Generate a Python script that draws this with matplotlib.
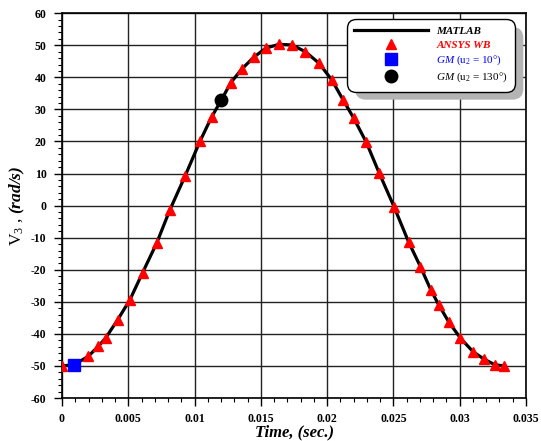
import numpy as np
import matplotlib

matplotlib.use("Agg")
import matplotlib.pyplot as plt
from matplotlib.lines import Line2D
from matplotlib.patches import FancyBboxPatch
from matplotlib.ticker import MultipleLocator, FuncFormatter

plt.rcParams["font.family"] = ["Liberation Serif", "DejaVu Serif"]
plt.rcParams["mathtext.fontset"] = "custom"
plt.rcParams["mathtext.rm"] = "Liberation Serif"
plt.rcParams["mathtext.it"] = "Liberation Serif:italic"
plt.rcParams["mathtext.bf"] = "Liberation Serif:bold"
plt.rcParams["mathtext.bfit"] = "Liberation Serif:italic:bold"

# MATLAB curve
t_matlab = [0.0, 0.00093, 0.00198, 0.00274, 0.00329, 0.0042, 0.00512, 0.00608,
            0.00714, 0.00814, 0.00927, 0.0104, 0.01128, 0.01203, 0.01271,
            0.01354, 0.01447, 0.01537, 0.01636, 0.01735, 0.01836, 0.01939,
            0.02035, 0.0212, 0.0220, 0.02296, 0.02391, 0.02504, 0.02615,
            0.02703, 0.02781, 0.02841, 0.02919, 0.03005, 0.03099, 0.0318,
            0.03263, 0.03331]
v_matlab = [-50.0, -49.6, -47.0, -43.9, -41.3, -35.6, -29.4, -20.9,
            -11.7, -1.3, 9.1, 20.0, 27.6, 33.0, 38.2,
            42.5, 46.3, 49.1, 50.3, 50.1, 48.0, 44.4,
            39.2, 33.0, 27.3, 19.7, 10.3, -0.3, -11.4,
            -19.0, -26.2, -30.9, -36.4, -41.3, -45.5, -47.8,
            -49.6, -50.0]

# ANSYS WB points
t_ansys = [0.0, 0.00198, 0.00274, 0.00329, 0.0042, 0.00512, 0.00608, 0.00714,
           0.00814, 0.00927, 0.0104, 0.01128, 0.01271, 0.01354, 0.01447,
           0.01537, 0.01636, 0.01735, 0.01836, 0.01939, 0.02035, 0.0212,
           0.0220, 0.02296, 0.02391, 0.02504, 0.02615, 0.02703, 0.02781,
           0.02841, 0.02919, 0.03005, 0.03099, 0.0318, 0.03263, 0.03331]
v_ansys = [-50.0, -47.0, -43.9, -41.3, -35.6, -29.4, -20.9, -11.7,
           -1.3, 9.1, 20.0, 27.6, 38.2, 42.5, 46.3,
           49.1, 50.4, 50.1, 48.0, 44.4, 39.2, 33.0,
           27.3, 19.7, 10.3, -0.3, -11.4, -19.0, -26.2,
           -30.9, -36.4, -41.3, -45.5, -47.8, -49.6, -49.9]

# GM points
t_gm10, v_gm10 = [0.00093], [-49.6]
t_gm130, v_gm130 = [0.01203], [33.0]

fig = plt.figure(figsize=(5.41, 4.41), dpi=100)
ax = fig.add_axes([0.1146, 0.0975, 0.8577, 0.8725])

ax.plot(t_matlab, v_matlab, color="black", lw=2.3, zorder=3)
ax.plot(t_ansys, v_ansys, "^", color="red", ms=7, mec="red", zorder=4)
ax.plot(t_gm10, v_gm10, "s", color="blue", ms=9, zorder=4)
ax.plot(t_gm130, v_gm130, "o", color="black", ms=9, zorder=4)

ax.set_xlim(0, 0.035)
ax.set_ylim(-60, 60)
ax.xaxis.set_major_locator(MultipleLocator(0.005))
ax.xaxis.set_minor_locator(MultipleLocator(0.001))
ax.yaxis.set_major_locator(MultipleLocator(10))
ax.yaxis.set_minor_locator(MultipleLocator(2))
ax.xaxis.set_major_formatter(FuncFormatter(lambda v, p: f"{round(v, 4):g}"))
ax.yaxis.set_major_formatter(FuncFormatter(lambda v, p: f"{v:g}"))

ax.grid(True, which="major", color="#222222", lw=1.0)
ax.tick_params(which="major", direction="out", length=6, width=1.0,
               labelsize=8.5, pad=5)
ax.tick_params(which="minor", direction="out", length=3, width=0.8)
for lab in ax.get_xticklabels() + ax.get_yticklabels():
    lab.set_fontweight("bold")
for s in ax.spines.values():
    s.set_linewidth(1.2)

ax.set_xlabel("Time, (sec.)", fontsize=12, fontweight="bold",
              fontstyle="italic", labelpad=-1)
ax.set_ylabel(r"V$_{\mathit{3}}$ , $\mathbfit{(rad/s)}$", fontsize=12.5,
              labelpad=3)

handles = [
    Line2D([], [], color="black", lw=2.3),
    Line2D([], [], marker="^", ls="", color="red", ms=7),
    Line2D([], [], marker="s", ls="", color="blue", ms=9),
    Line2D([], [], marker="o", ls="", color="black", ms=9),
]
labels = ["MATLAB", "ANSYS WB", r"$\mathit{GM}$ (u$_2$ = 10°)",
          r"$\mathit{GM}$ (u$_2$ = 130°)"]
leg = ax.legend(handles, labels, loc="upper left",
                bbox_to_anchor=(347 / 541, 1 - 19 / 441),
                bbox_transform=fig.transFigure, borderaxespad=0,
                fontsize=8, handlelength=6.6, handletextpad=0.8,
                labelspacing=0.35, borderpad=0.65, fancybox=True,
                framealpha=1, edgecolor="black")
leg.get_frame().set_linewidth(1.0)
leg.get_frame().set_boxstyle("round,pad=0,rounding_size=0.8")
leg.set_zorder(6)
txts = leg.get_texts()
txts[0].set_fontweight("bold")
txts[0].set_fontstyle("italic")
txts[1].set_fontweight("bold")
txts[1].set_fontstyle("italic")
txts[1].set_color("red")
txts[2].set_color("blue")
txts[3].set_color("black")

# grey drop shadow behind the legend box
fig.canvas.draw()
bb = leg.get_frame().get_window_extent()
shadow = FancyBboxPatch((bb.x0 + 8, bb.y0 - 8), bb.width, bb.height,
                        boxstyle="round,pad=0,rounding_size=11",
                        transform=None, facecolor="#b4b4b4",
                        edgecolor="none", zorder=5.5)
ax.add_artist(shadow)
shadow.set_clip_on(False)

fig.savefig("out.png", dpi=100)
